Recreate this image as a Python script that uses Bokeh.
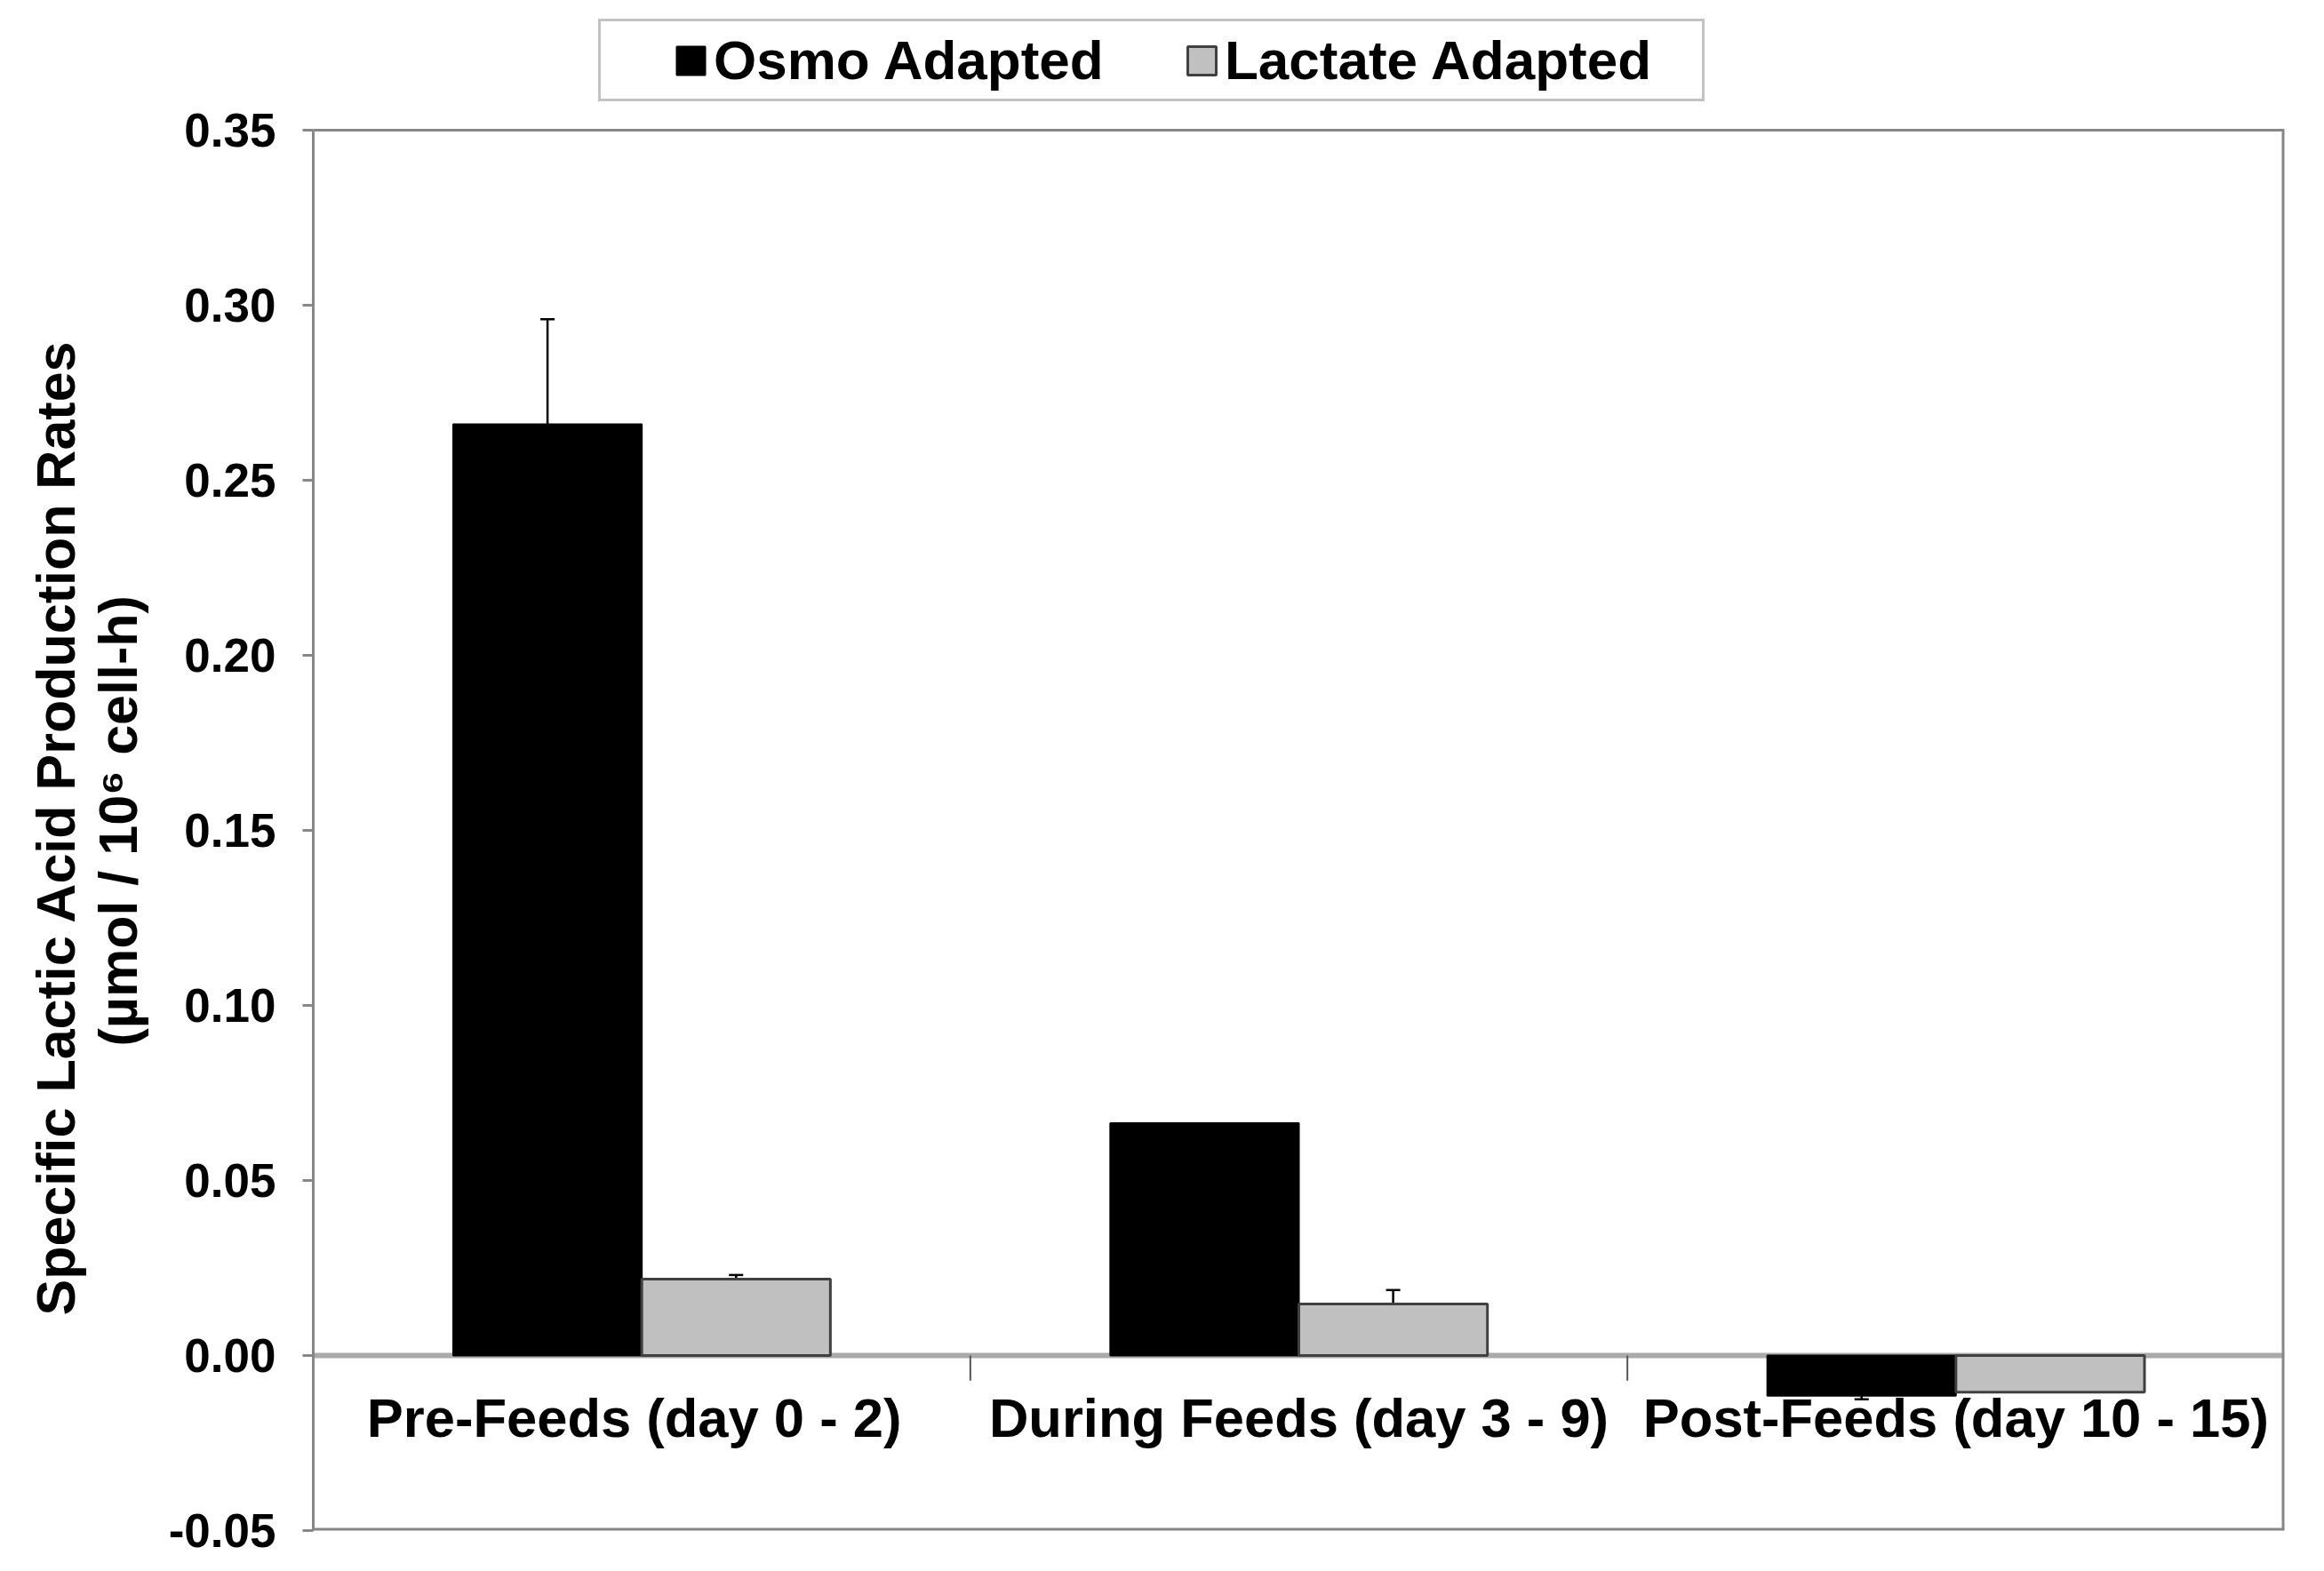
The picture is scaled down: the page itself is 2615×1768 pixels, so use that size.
from bokeh.plotting import figure
from bokeh.models import (Range1d, Span, Legend, LegendItem, ColumnDataSource,
                          FixedTicker, Whisker, TeeHead, CustomJSTickFormatter, Title)
from bokeh.core.properties import value
from bokeh.embed import file_html
from bokeh.resources import INLINE

# ---- data ----
categories = ["Pre-Feeds  (day 0 - 2)", "During Feeds (day 3 - 9)", "Post-Feeds (day 10 - 15)"]
series_names = ["Osmo Adapted", "Lactate Adapted"]
osmo = [0.266, 0.0664, -0.0115]
osmo_err = [0.030, 0.0, 0.001]
lactate = [0.0218, 0.0147, -0.0105]
lactate_err = [0.0012, 0.004, 0.0]
y_ticks = [-0.05, 0.0, 0.05, 0.10, 0.15, 0.20, 0.25, 0.30, 0.35]
y_title_1 = "Specific Lactic Acid Production Rates"
y_title_2 = "(\u00b5mol / 10\u2076 cell-h)"

FONT = "Liberation Sans"
GRAY = "#878787"
BAR_W = 0.287
OFF = 0.1435

# layout constants (pixels)
FIG_W, FIG_H = 2591, 1752
LEFT, RIGHT = 352, 21
TOP = 10           # frame top (legend lives inside the frame, above the plot box)
BOTTOM = 30
PLOT_TOP = 146     # where the 0.35 line sits
frame_h = FIG_H - TOP - BOTTOM
px_per_unit = (frame_h - (PLOT_TOP - TOP)) / (y_ticks[-1] - y_ticks[0])
y_end = y_ticks[-1] + (PLOT_TOP - TOP) / px_per_unit

n = len(categories)
centers = [i + 0.5 for i in range(n)]
osmo_x = [c - OFF for c in centers]
lact_x = [c + OFF for c in centers]

p = figure(width=FIG_W, height=FIG_H, output_backend="svg", toolbar_location=None,
           x_range=Range1d(0, n), y_range=Range1d(y_ticks[0], y_end),
           x_axis_location=None, min_border_left=LEFT, min_border_right=RIGHT,
           min_border_top=TOP, min_border_bottom=BOTTOM)
p.background_fill_color = "white"
p.border_fill_color = "white"
p.grid.visible = False
p.outline_line_color = None

# plot box (top, bottom, right) and zero line
p.add_layout(Span(location=y_ticks[-1], dimension="width", line_color=GRAY, line_width=3))
p.add_layout(Span(location=y_ticks[0], dimension="width", line_color=GRAY, line_width=6))
p.segment(x0=[n], x1=[n], y0=[y_ticks[0]], y1=[y_ticks[-1]], line_color=GRAY, line_width=6)
p.add_layout(Span(location=0, dimension="width", line_color="#aaaaaa", line_width=6, level="underlay"))

src_o = ColumnDataSource(dict(x=osmo_x, top=osmo))
src_l = ColumnDataSource(dict(x=lact_x, top=lactate))
r_o = p.vbar(x="x", top="top", bottom=0, width=BAR_W, source=src_o,
             fill_color="black", line_color="black", line_width=2)
r_l = p.vbar(x="x", top="top", bottom=0, width=BAR_W, source=src_l,
             fill_color="#c0c0c0", line_color="#404040", line_width=3)

# error bars
ex, lo, hi = [], [], []
for xs, vals, errs in ((osmo_x, osmo, osmo_err), (lact_x, lactate, lactate_err)):
    for x, v, e in zip(xs, vals, errs):
        if e > 0:
            ex.append(x); lo.append(v - e); hi.append(v + e)
err_src = ColumnDataSource(dict(x=ex, lower=lo, upper=hi))
p.add_layout(Whisker(source=err_src, base="x", lower="lower", upper="upper",
                     line_color="black", line_width=2.5,
                     upper_head=TeeHead(size=16, line_color="black", line_width=2.5),
                     lower_head=TeeHead(size=16, line_color="black", line_width=2.5)))

# category separator ticks on the zero line
bounds = list(range(1, n))
p.segment(x0=bounds, x1=bounds, y0=[0] * len(bounds), y1=[-0.0072] * len(bounds),
          line_color="#555555", line_width=2)

# category labels
p.text(x=centers, y=[-0.0177] * n, text=categories,
       text_align="center", text_baseline="alphabetic",
       text_font=value(FONT), text_font_style="bold", text_font_size="61.5px",
       text_color="black")

# y axis
ax = p.yaxis[0]
ax.ticker = FixedTicker(ticks=y_ticks)
ax.bounds = (y_ticks[0], y_ticks[-1])
ax.formatter = CustomJSTickFormatter(code="return tick.toFixed(2);")
ax.minor_tick_line_color = None
ax.axis_line_color = GRAY
ax.axis_line_width = 3
ax.major_tick_line_color = GRAY
ax.major_tick_line_width = 3
ax.major_tick_out = 12
ax.major_tick_in = 0
ax.major_label_standoff = 30
ax.major_label_text_font = FONT
ax.major_label_text_font_style = "bold"
ax.major_label_text_font_size = "53px"
ax.major_label_text_color = "black"
# spacer between tick labels and the two-line title
ax.axis_label = " "
ax.axis_label_text_font_size = "2px"
ax.axis_label_standoff = 14

# y-axis title: two lines, centred on the plot box
t2 = Title(text=y_title_2, align="left", offset=545, standoff=0, vertical_align="middle",
           text_font=FONT, text_font_style="bold", text_font_size="61px", text_color="black")
t1 = Title(text=y_title_1, align="left", offset=242, standoff=0, vertical_align="middle",
           text_font=FONT, text_font_style="bold", text_font_size="61px", text_color="black")
p.add_layout(t2, "left")
p.add_layout(t1, "left")

# legend (inside the extended frame, above the plot box)
legend = Legend(items=[LegendItem(label=series_names[0], renderers=[r_o]),
                       LegendItem(label=series_names[1], renderers=[r_l])],
                orientation="horizontal", location=(321, frame_h - 114 + TOP),
                title=" ", title_location="left", title_standoff=3,
                title_text_font=FONT, title_text_font_size="61px",
                glyph_width=40, glyph_height=40, label_standoff=6,
                label_width=529, spacing=0,
                padding=8, margin=0,
                label_text_font=FONT, label_text_font_style="bold",
                label_text_font_size="62px", label_text_color="black",
                border_line_color=GRAY, border_line_width=3,
                background_fill_color="white", background_fill_alpha=1.0)
p.add_layout(legend, "center")

open("out.html", "w").write(file_html(p, INLINE))
